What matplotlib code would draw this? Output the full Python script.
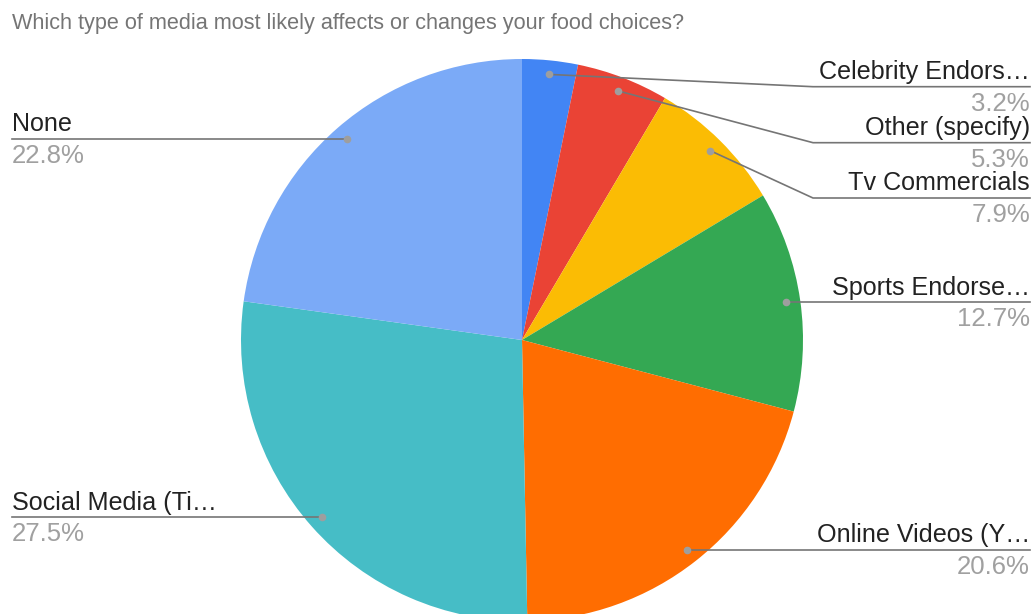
import matplotlib
matplotlib.use("Agg")
import matplotlib.pyplot as plt
import numpy as np

title = "Which type of media most likely affects or changes your food choices?"
labels = ["Celebrity Endors…", "Other (specify)", "Tv Commercials", "Sports Endorse…",
          "Online Videos (Y…", "Social Media (Ti…", "None"]
values = [3.2, 5.3, 7.9, 12.7, 20.6, 27.5, 22.8]
colors = ["#4285F4", "#EA4335", "#FBBC04", "#34A853", "#FF6D01", "#46BDC6", "#7BAAF7"]

W, H = 1035, 614
fig = plt.figure(figsize=(W / 100, H / 100), dpi=100)
ax = fig.add_axes([0, 0, 1, 1])

def Y(py):
    return H - py

cx, cy, R = 522, Y(340), 281
wedges, _ = ax.pie(values, colors=colors, startangle=90, counterclock=False,
                   center=(cx, cy), radius=R, wedgeprops=dict(linewidth=0))
ax.set_xlim(0, W)
ax.set_ylim(0, H)
ax.set_aspect("equal")
ax.axis("off")

fig.text(12 / W, 1 - 24 / H, title, fontsize=15.6, color="#757575",
         family="Liberation Sans", va="center", ha="left")

right_x, left_x = 1030, 12
stack_y = {0: 86.7, 1: 142.7, 2: 198.0}
line_col = "#757575"
lab_fs = 18.1
for i, w in enumerate(wedges):
    mid = np.deg2rad((w.theta1 + w.theta2) / 2)
    dx = cx + 0.95 * R * np.cos(mid)
    dy = cy + 0.95 * R * np.sin(mid)
    right = np.cos(mid) > 0
    if i in stack_y:
        ly = Y(stack_y[i])
        ex = 813
        ax.plot([dx, ex, right_x], [dy, ly, ly], color=line_col, lw=1.2, zorder=3)
    else:
        ly = dy
        ax.plot([dx, right_x if right else left_x], [ly, ly], color=line_col, lw=1.2, zorder=3)
    ax.plot(dx, dy, "o", ms=5.5, color="#9E9E9E", mec="none", zorder=4)
    tx = right_x if right else left_x
    ha = "right" if right else "left"
    ax.text(tx, ly + 7.5, labels[i], fontsize=lab_fs, color="#222222", ha=ha,
            va="baseline", family="Liberation Sans")
    ax.text(tx, ly - 24, f"{values[i]:.1f}%", fontsize=lab_fs + 0.4, color="#A0A0A0", ha=ha,
            va="baseline", family="Liberation Sans")

fig.savefig("out.png", dpi=100)
